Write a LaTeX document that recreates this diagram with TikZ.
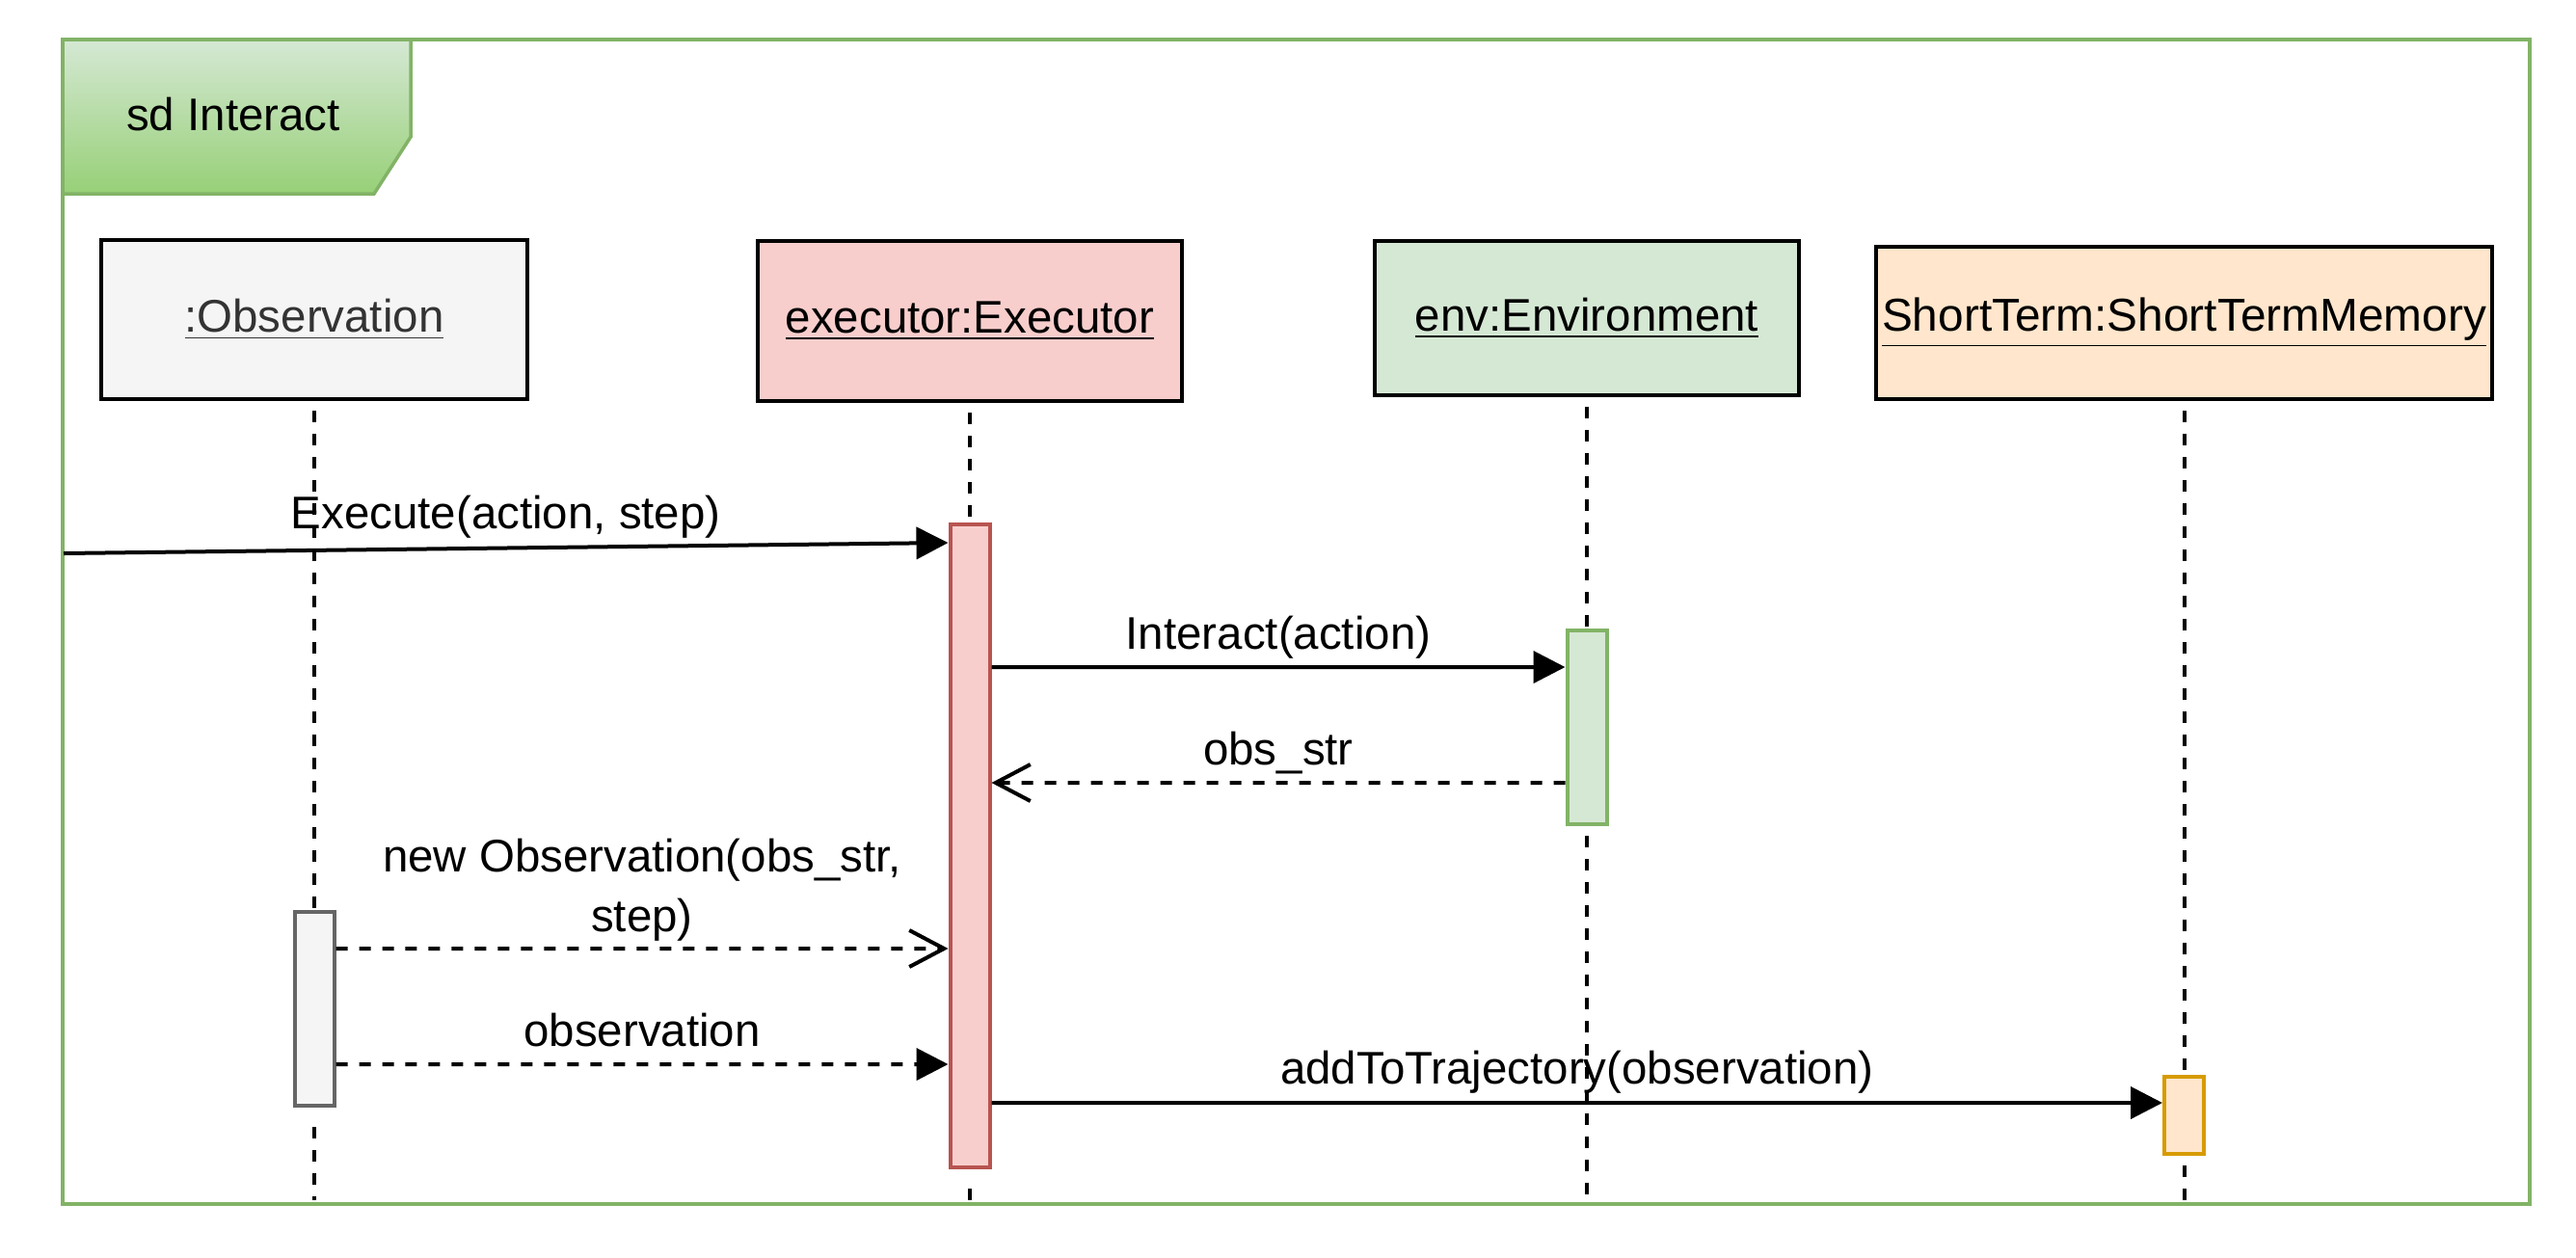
\documentclass[tikz,border=0pt]{standalone}
\usepackage{fontspec}
\setmainfont{Liberation Sans}
\usetikzlibrary{arrows.meta}
\usetikzlibrary{positioning}

\definecolor{framegreen}{HTML}{82B366}
\definecolor{tabgreen}{HTML}{97D077}
\definecolor{lightgreen}{HTML}{D5E8D4}
\definecolor{lightgrey}{HTML}{F5F5F5}
\definecolor{midgrey}{HTML}{666666}
\definecolor{textgrey}{HTML}{333333}
\definecolor{lightred}{HTML}{F8CECC}
\definecolor{darkred}{HTML}{B85450}
\definecolor{lightorange}{HTML}{FFE6CC}
\definecolor{darkorange}{HTML}{D79B00}

\begin{document}
\begin{tikzpicture}[every node/.style={font=\fontsize{13.5}{17.5}\selectfont},
	head/.style={draw,line width=0.04cm,minimum width=4.4cm,minimum height=1.64cm,inner sep=0pt},
	act/.style={draw,line width=0.04cm,minimum width=0.41cm,inner sep=0pt},
	life/.style={line width=0.04cm,dash pattern=on 0.12cm off 0.12cm},
	msg/.style={line width=0.04cm,-{Triangle[length=0.33cm,width=0.33cm]}},
	ret/.style={line width=0.04cm,dash pattern=on 0.12cm off 0.12cm,-{Straight Barb[length=0.36cm,width=0.38cm]}}
	]
	\useasboundingbox (0,0) rectangle (26.72,-13.04);
	% frame and its tab
	\shade[top color=lightgreen,bottom color=tabgreen] (0.65,-0.41) -- (4.26,-0.41) -- (4.26,-1.42) -- (3.88,-2.01) -- (0.65,-2.01) -- cycle;
	\draw[framegreen,line width=0.035cm] (0.65,-0.41) -- (4.26,-0.41) -- (4.26,-1.42) -- (3.88,-2.01) -- (0.65,-2.01);
	\draw[framegreen,line width=0.035cm] (0.65,-0.41) rectangle (26.24,-12.49);
	\node (title) at (2.42,-1.19) {sd Interact};
	% lifeline heads
	\node[head,fill=lightgrey,minimum width=4.42cm,minimum height=1.65cm,text=textgrey] (obs) at (3.26,-3.315) {\underline{:Observation}};
	\node[head,fill=lightred,minimum height=1.66cm] (exec) at (10.06,-3.33) {\underline{executor:Executor}};
	\node[head,fill=lightgreen,minimum height=1.60cm] (env) at (16.46,-3.30) {\underline{env:Environment}};
	\node[head,fill=lightorange,minimum width=6.39cm,minimum height=1.58cm,font=\fontsize{13.6}{17}\selectfont] (st) at (22.655,-3.35) {\underline{ShortTerm:ShortTermMemory}};
	% activations
	\node[act,fill=lightred,draw=darkred,minimum height=6.67cm] (execact) at (10.06,-8.775) {};
	\node[act,fill=lightgreen,draw=framegreen,minimum height=2.01cm] (envact) at (16.46,-7.545) {};
	\node[act,fill=lightgrey,draw=midgrey,minimum height=2.01cm] (obsact) at (3.26,-10.465) {};
	\node[act,fill=lightorange,draw=darkorange,minimum height=0.80cm] (stact) at (22.655,-11.57) {};
	\coordinate (entry) at (0.66,-5.74);
	\coordinate (obsbot) at (3.26,-12.45);
	\coordinate (execbot) at (10.06,-12.52);
	\coordinate (envbot) at (16.46,-12.49);
	\coordinate (stbot) at (22.655,-12.49);
	% lifelines
	\draw[life] ([yshift=-0.1cm]obs.south) -- (obsact.north);
	\draw[life] ([yshift=-0.2cm]obsact.south) -- (obsbot);
	\draw[life] ([yshift=-0.1cm]exec.south) -- (execact.north);
	\draw[life] ([yshift=-0.2cm]execact.south) -- (execbot);
	\draw[life] ([yshift=-0.1cm]env.south) -- (envact.north);
	\draw[life] ([yshift=-0.1cm]envact.south) -- (envbot);
	\draw[life] ([yshift=-0.1cm]st.south) -- (stact.north);
	\draw[life] ([yshift=-0.1cm]stact.south) -- (stbot);
	% messages
	\draw[msg] (entry) -- node[yshift=0.32cm]{Execute(action, step)} ([yshift=-0.21cm]execact.north west);
	\draw[msg] ([yshift=-1.50cm]execact.north east) -- node[yshift=0.31cm]{Interact(action)} ([yshift=-0.40cm]envact.north west);
	\draw[ret] ([yshift=-1.60cm]envact.north west) -- node[yshift=0.31cm]{obs\_str} ([yshift=-2.70cm]execact.north east);
	\draw[ret] ([yshift=-0.40cm]obsact.north east) -- node[yshift=0.61cm,align=center]{new Observation(obs\_str,\\step)} ([yshift=-4.42cm]execact.north west);
	\draw[msg,dash pattern=on 0.12cm off 0.12cm] ([yshift=-1.60cm]obsact.north east) -- node[yshift=0.35cm]{observation} ([yshift=-5.62cm]execact.north west);
	\draw[msg] ([yshift=-6.02cm]execact.north east) -- node[yshift=0.32cm]{addToTrajectory(observation)} ([yshift=-0.29cm]stact.north west);
\end{tikzpicture}
\end{document}
